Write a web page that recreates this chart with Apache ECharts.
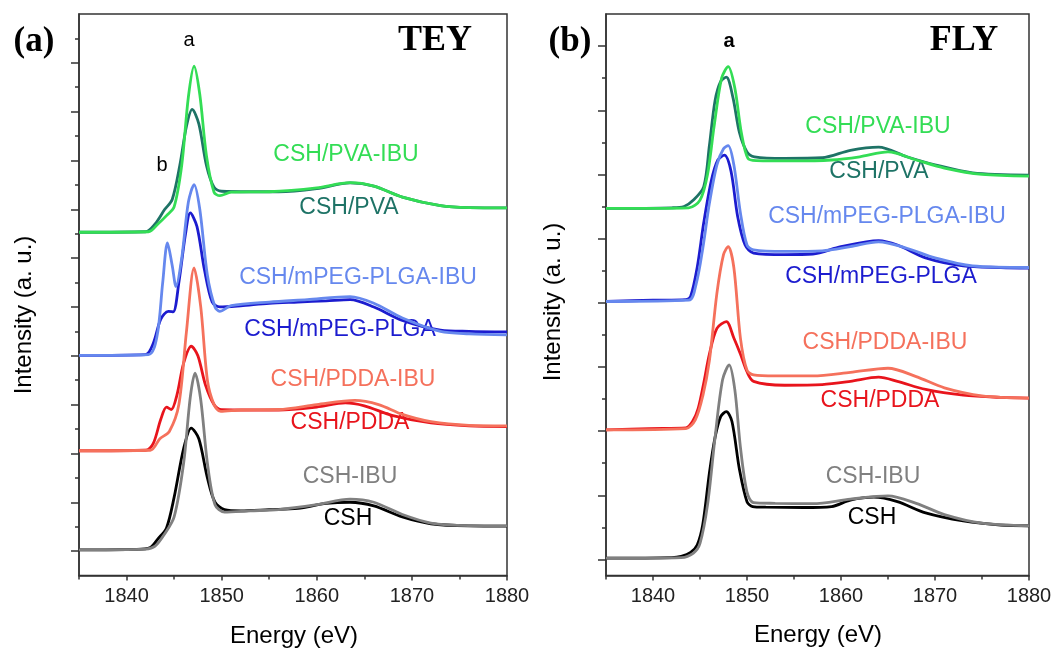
<!DOCTYPE html>
<html>
<head>
<meta charset="utf-8">
<script src="https://cdn.jsdelivr.net/npm/echarts@6/dist/echarts.min.js"></script>
<style>
html, body { margin: 0; padding: 0; background: #fff; }
#echarts { width: 1058px; height: 651px; }
</style>
</head>
<body>
<div id="echarts"></div>
<script>
// tick values
var majorX = [1840, 1850, 1860, 1870, 1880];
var minorX = [1835, 1845, 1855, 1865, 1875];
var majorYa = [1, 3, 5, 7, 9, 11, 13, 15, 17, 19, 21];
var minorYa = [2, 4, 6, 8, 10, 12, 14, 16, 18, 20, 22];
var majorYb = [0.5, 2.5, 4.5, 6.5, 8.5, 10.5, 12.5, 14.5, 16.5];
var minorYb = [1.5, 3.5, 5.5, 7.5, 9.5, 11.5, 13.5, 15.5];

// (a) TEY spectra, [energy, intensity offset]
var teyCSH = [[1835,1.05],[1841,1.07],[1842.5,1.15],[1843.3,1.5],[1844.2,1.95],[1845,3.2],[1846,5.2],[1846.8,6.04],[1847.6,5.6],[1848.5,4.0],[1849.3,3.0],[1850.3,2.7],[1852,2.65],[1855,2.7],[1858,2.75],[1861,2.95],[1863.5,3.0],[1866,2.85],[1869,2.4],[1872,2.12],[1876,2.03],[1880,2.02]];
var teyCSHIBU = [[1835,1.05],[1842,1.08],[1843,1.2],[1844,1.7],[1845,2.4],[1846,4.6],[1846.7,7.3],[1847.2,8.29],[1847.8,7.2],[1848.5,4.6],[1849.3,2.9],[1850.3,2.6],[1853,2.65],[1856,2.7],[1860,2.9],[1863.5,3.13],[1866,3.0],[1869,2.5],[1872,2.15],[1876,2.04],[1880,2.03]];
var teyPDDA = [[1835,5.11],[1842,5.13],[1842.8,5.4],[1843.6,6.4],[1844.2,6.9],[1844.7,6.8],[1845.3,7.4],[1846,8.7],[1846.8,9.39],[1847.5,9.0],[1848.3,7.8],[1849.2,7.0],[1850,6.79],[1853,6.78],[1856,6.78],[1860,6.9],[1863,7.07],[1865,6.95],[1868,6.55],[1872,6.25],[1876,6.13],[1880,6.1]];
var teyPDDAIBU = [[1835,5.11],[1842.5,5.13],[1843.5,5.6],[1844.5,5.9],[1845.5,7.0],[1846.3,10.0],[1847.1,12.6],[1847.8,11.0],[1848.5,8.0],[1849.2,7.0],[1849.9,6.72],[1852,6.78],[1856,6.8],[1860,7.0],[1864,7.17],[1866.5,7.0],[1869,6.6],[1872,6.3],[1876,6.15],[1880,6.13]];
var teyPLGA = [[1835,9.02],[1842,9.05],[1842.8,9.5],[1843.6,10.5],[1844.4,10.82],[1844.9,10.8],[1845.5,12.0],[1846.2,14.0],[1846.7,14.85],[1847.4,14.3],[1848.2,12.5],[1849,11.2],[1849.8,11.0],[1852,11.05],[1855,11.15],[1858,11.2],[1861,11.25],[1863.5,11.3],[1866,11.0],[1869,10.45],[1873,10.05],[1876,10.0],[1880,9.98]];
var teyPLGAIBU = [[1835,9.02],[1842.3,9.05],[1843.2,9.8],[1843.8,12.0],[1844.3,13.62],[1844.8,12.7],[1845.2,11.84],[1845.8,13.0],[1846.5,15.3],[1847.1,16.01],[1847.7,15.0],[1848.5,12.3],[1849.3,11.0],[1849.8,10.82],[1851,11.05],[1855,11.2],[1859,11.3],[1863.5,11.42],[1866,11.15],[1869,10.55],[1873,10.0],[1876,9.9],[1880,9.86]];
var teyPVA = [[1835,14.06],[1842,14.08],[1843,14.4],[1844,14.99],[1844.8,15.4],[1845.6,16.8],[1846.3,18.4],[1846.9,19.09],[1847.6,18.5],[1848.4,16.8],[1849.2,15.9],[1850,15.74],[1853,15.72],[1856,15.72],[1860,15.85],[1863.5,16.08],[1866,15.95],[1869,15.5],[1873,15.15],[1876,15.07],[1880,15.06]];
var teyPVAIBU = [[1835,14.06],[1842.3,14.08],[1843.3,14.4],[1844.2,14.74],[1845,15.1],[1845.8,16.8],[1846.5,19.6],[1847.1,20.86],[1847.7,19.7],[1848.4,17.2],[1849.2,15.7],[1849.8,15.56],[1851,15.7],[1855,15.72],[1860,15.88],[1863.5,16.09],[1866,15.95],[1869,15.5],[1873,15.15],[1876,15.07],[1880,15.06]];

// (b) FLY spectra
var flyCSH = [[1835,0.54],[1842,0.56],[1843,0.6],[1844,0.72],[1844.7,0.95],[1845.3,1.6],[1846,3.2],[1846.6,4.3],[1847.2,4.95],[1847.8,5.11],[1848.4,4.8],[1849.2,3.3],[1850,2.3],[1850.6,2.15],[1852,2.13],[1856,2.12],[1859,2.15],[1861,2.35],[1863.5,2.44],[1866,2.3],[1869,1.95],[1873,1.7],[1877,1.57],[1880,1.55]];
var flyCSHIBU = [[1835,0.54],[1843,0.56],[1844.3,0.7],[1845,1.0],[1845.8,2.2],[1846.6,4.3],[1847.4,6.1],[1848.1,6.56],[1848.7,5.8],[1849.3,4.0],[1850,2.6],[1850.7,2.27],[1853,2.25],[1857,2.24],[1861,2.38],[1865,2.48],[1868,2.25],[1871,1.9],[1875,1.63],[1880,1.55]];
var flyPDDA = [[1835,4.54],[1839.6,4.58],[1843.5,4.6],[1844.2,4.8],[1844.8,5.2],[1845.4,6.0],[1846,6.9],[1846.8,7.7],[1847.8,7.91],[1848.6,7.4],[1849.3,6.9],[1850,6.35],[1850.7,6.05],[1854,5.93],[1858,5.95],[1861,6.05],[1864,6.18],[1866,6.05],[1869,5.8],[1873,5.62],[1877,5.55],[1880,5.53]];
var flyPDDAIBU = [[1835,4.54],[1843.5,4.58],[1844.5,4.85],[1845.3,5.6],[1846,6.7],[1846.8,8.8],[1847.5,10.0],[1848,10.25],[1848.6,9.6],[1849.3,7.4],[1850,6.4],[1850.7,6.25],[1853,6.22],[1857,6.22],[1861,6.33],[1865,6.46],[1868,6.2],[1871,5.85],[1875,5.6],[1880,5.53]];
var flyPLGA = [[1835,8.54],[1840,8.58],[1843.5,8.6],[1844,8.7],[1844.7,9.6],[1845.4,11.0],[1846.2,12.3],[1846.9,12.95],[1847.6,13.1],[1848.3,12.6],[1849,11.2],[1849.8,10.3],[1850.7,10.05],[1854,10.0],[1857,10.02],[1860,10.25],[1864,10.44],[1866,10.3],[1869,9.9],[1873,9.65],[1877,9.6],[1880,9.58]];
var flyPLGAIBU = [[1835,8.54],[1843.8,8.58],[1844.6,9.1],[1845.3,10.2],[1846,11.6],[1846.8,12.8],[1847.5,13.3],[1848,13.4],[1848.6,12.8],[1849.3,11.3],[1850,10.3],[1850.7,10.15],[1854,10.1],[1858,10.12],[1861,10.25],[1864,10.4],[1867,10.2],[1870,9.9],[1874,9.65],[1880,9.6]];
var flyPVA = [[1835,11.44],[1842,11.46],[1843.3,11.5],[1844.3,11.7],[1845.4,12.12],[1846,13.4],[1846.6,14.8],[1847.2,15.4],[1847.8,15.53],[1848.5,14.9],[1849.2,13.8],[1850,13.2],[1850.8,13.05],[1854,13.0],[1858,13.02],[1861,13.25],[1864,13.35],[1867,13.05],[1870,12.8],[1874,12.55],[1880,12.48]];
var flyPVAIBU = [[1835,11.44],[1843.8,11.46],[1845,11.7],[1845.8,12.5],[1846.5,14.0],[1847.3,15.5],[1848,15.86],[1848.7,15.2],[1849.4,13.8],[1850.1,13.0],[1851,12.93],[1855,12.92],[1859,12.95],[1862,13.05],[1865,13.2],[1868,12.95],[1871,12.7],[1875,12.5],[1880,12.45]];

var names = ['CSH', 'CSH-IBU', 'CSH/PDDA', 'CSH/PDDA-IBU', 'CSH/mPEG-PLGA', 'CSH/mPEG-PLGA-IBU', 'CSH/PVA', 'CSH/PVA-IBU'];
var colors = ['#000000', '#808080', '#e8141c', '#f5715c', '#1c1ccf', '#6688ee', '#1e7366', '#33dd55'];
var teyData = [teyCSH, teyCSHIBU, teyPDDA, teyPDDAIBU, teyPLGA, teyPLGAIBU, teyPVA, teyPVAIBU];
var flyData = [flyCSH, flyCSHIBU, flyPDDA, flyPDDAIBU, flyPLGA, flyPLGAIBU, flyPVA, flyPVAIBU];

var myChart = echarts.init(document.getElementById('echarts'));

var axisColor = '#333';
function xAxes(grid) {
  return [{
    gridIndex: grid, type: 'value', position: 'bottom', min: 1835, max: 1880,
    axisLine: { lineStyle: { color: axisColor, width: 1.5 } },
    axisTick: { customValues: majorX, length: 5, lineStyle: { color: axisColor, width: 1.5 } },
    axisLabel: { customValues: majorX, fontSize: 20, color: '#222', margin: 11, fontFamily: 'Liberation Sans',
      formatter: function (v) { return String(v); } },
    splitLine: { show: false }
  }, {
    gridIndex: grid, type: 'value', position: 'bottom', min: 1835, max: 1880,
    axisLine: { show: false },
    axisTick: { customValues: minorX, length: 4, lineStyle: { color: axisColor, width: 1.5 } },
    axisLabel: { show: false },
    splitLine: { show: false }
  }];
}
function yAxes(grid, max, major, minor) {
  return [{
    gridIndex: grid, type: 'value', position: 'left', min: 0, max: max,
    axisLine: { show: true, lineStyle: { color: axisColor, width: 1.5 } },
    axisTick: { show: true, customValues: major, length: 8, lineStyle: { color: axisColor, width: 1.5 } },
    axisLabel: { show: false },
    splitLine: { show: false }
  }, {
    gridIndex: grid, type: 'value', position: 'left', min: 0, max: max,
    axisLine: { show: false },
    axisTick: { show: true, customValues: minor, length: 4, lineStyle: { color: axisColor, width: 1.5 } },
    axisLabel: { show: false },
    splitLine: { show: false }
  }];
}

var series = [];
teyData.forEach(function (d, i) {
  series.push({ name: names[i], type: 'line', xAxisIndex: 0, yAxisIndex: 0, data: d,
    showSymbol: false, smooth: 0.3,
    lineStyle: { color: colors[i], width: 2.8 } });
});
flyData.forEach(function (d, i) {
  series.push({ name: names[i], type: 'line', xAxisIndex: 2, yAxisIndex: 2, data: d,
    showSymbol: false, smooth: 0.3,
    lineStyle: { color: colors[i], width: 2.8 } });
});

// label positions (px) for each curve, same order as names
var teyLabelPos = [[348, 519], [350, 477], [350, 423], [353, 380], [340, 330], [358, 278], [349, 208], [346, 155]];
var flyLabelPos = [[872, 518], [873, 477], [880, 401], [885, 343], [881, 277], [887, 217], [879, 172], [878, 127]];

function txt(x, y, s, style) {
  return { type: 'text', x: x, y: y, style: Object.assign({ text: s, align: 'center', verticalAlign: 'middle',
    fontFamily: 'Liberation Sans', fontSize: 23, fill: '#000' }, style || {}) };
}
var graphic = [];
names.forEach(function (n, i) {
  graphic.push(txt(teyLabelPos[i][0], teyLabelPos[i][1], n, { fill: colors[i] }));
  graphic.push(txt(flyLabelPos[i][0], flyLabelPos[i][1], n, { fill: colors[i] }));
});
var serif = { fontFamily: 'Liberation Serif', fontWeight: 'bold', fontSize: 35 };
graphic.push(txt(34, 42, '(a)', serif));
graphic.push(txt(570, 42, '(b)', serif));
graphic.push(txt(435, 41, 'TEY', { fontFamily: 'Liberation Serif', fontWeight: 'bold', fontSize: 36 }));
graphic.push(txt(964, 41, 'FLY', { fontFamily: 'Liberation Serif', fontWeight: 'bold', fontSize: 36 }));
graphic.push(txt(189, 40, 'a', { fontSize: 20 }));
graphic.push(txt(162, 165, 'b', { fontSize: 20 }));
graphic.push(txt(729, 41, 'a', { fontSize: 20, fontWeight: 'bold' }));
graphic.push(txt(294, 636, 'Energy (eV)', { fontSize: 24 }));
graphic.push(txt(818, 635, 'Energy (eV)', { fontSize: 24 }));
var yt1 = txt(24, 315, 'Intensity (a. u.)', { fontSize: 24 }); yt1.rotation = Math.PI / 2; graphic.push(yt1);
var yt2 = txt(553, 302, 'Intensity (a. u.)', { fontSize: 24 }); yt2.rotation = Math.PI / 2; graphic.push(yt2);

var myOption = {
  animation: false,
  backgroundColor: '#fff',
  grid: [
    { left: 79, top: 14, width: 428, height: 561.5, show: true, borderColor: axisColor, borderWidth: 1.5 },
    { left: 606, top: 14, width: 423, height: 561.5, show: true, borderColor: axisColor, borderWidth: 1.5 }
  ],
  xAxis: xAxes(0).concat(xAxes(1)),
  yAxis: yAxes(0, 23, majorYa, minorYa).concat(yAxes(1, 17.5, majorYb, minorYb)),
  series: series,
  graphic: graphic
};
myChart.setOption(myOption);
</script>
</body>
</html>
